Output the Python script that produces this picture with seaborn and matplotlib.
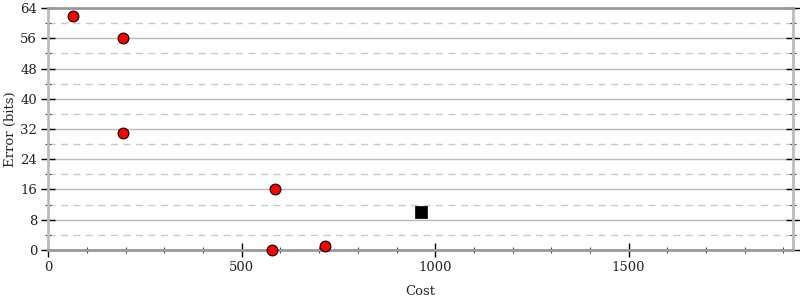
import matplotlib
matplotlib.use("Agg")
import matplotlib.pyplot as plt
import seaborn as sns
import pandas as pd
from matplotlib.ticker import MultipleLocator

sns.set_style("white")
plt.rcParams['font.family'] = ['DejaVu Serif']

# data
circle_cost = [64, 194, 194, 586, 579, 715]
circle_error = [62, 56, 31, 16, 0, 1]
square_cost = [963]
square_error = [10]

fig = plt.figure(figsize=(8, 3), dpi=100)
ax = fig.add_axes([0.0604, 0.1667, 0.931, 0.8066])

df_c = pd.DataFrame({"Cost": circle_cost, "Error": circle_error})
df_s = pd.DataFrame({"Cost": square_cost, "Error": square_error})

sns.scatterplot(data=df_c, x="Cost", y="Error", ax=ax, marker="o", s=60,
                color="#ff0000", edgecolor="black", linewidth=0.8, zorder=5, clip_on=False)
sns.scatterplot(data=df_s, x="Cost", y="Error", ax=ax, marker="s", s=80,
                color="black", edgecolor="black", linewidth=0.5, zorder=5, clip_on=False)

ax.set_xlim(0, 1925)
ax.set_ylim(0, 64)
ax.xaxis.set_major_locator(MultipleLocator(500))
ax.xaxis.set_minor_locator(MultipleLocator(100))
ax.yaxis.set_major_locator(MultipleLocator(8))
ax.yaxis.set_minor_locator(MultipleLocator(4))

ax.grid(which="major", axis="y", color="#bbbbbb", linewidth=1.0, linestyle="-")
ax.grid(which="minor", axis="y", color="#c8c8c8", linewidth=1.0, linestyle=(0, (5, 4)))
ax.set_axisbelow(True)

ax.tick_params(axis="both", which="major", direction="inout", length=10, width=1,
               color="black", labelsize=9.5, labelcolor="#222222", pad=3)
ax.tick_params(axis="both", which="minor", direction="inout", length=4, width=0.8,
               color="#444444")
ax.tick_params(axis="y", which="both", right=True, left=True)
ax.tick_params(axis="x", which="both", bottom=True, top=False)

for side, col, lw in [("left", "#bbbbbb", 2), ("right", "#bbbbbb", 2),
                      ("bottom", "#999999", 2), ("top", "#999999", 2)]:
    ax.spines[side].set_visible(True)
    ax.spines[side].set_color(col)
    ax.spines[side].set_linewidth(lw)

ax.set_xlabel("Cost", fontsize=9.5)
ax.set_ylabel("Error (bits)", fontsize=9.5)
ax.xaxis.set_label_coords(0.5, -0.145)
ax.yaxis.set_label_coords(-0.0416, 0.5)

fig.savefig("out.png", dpi=100)
